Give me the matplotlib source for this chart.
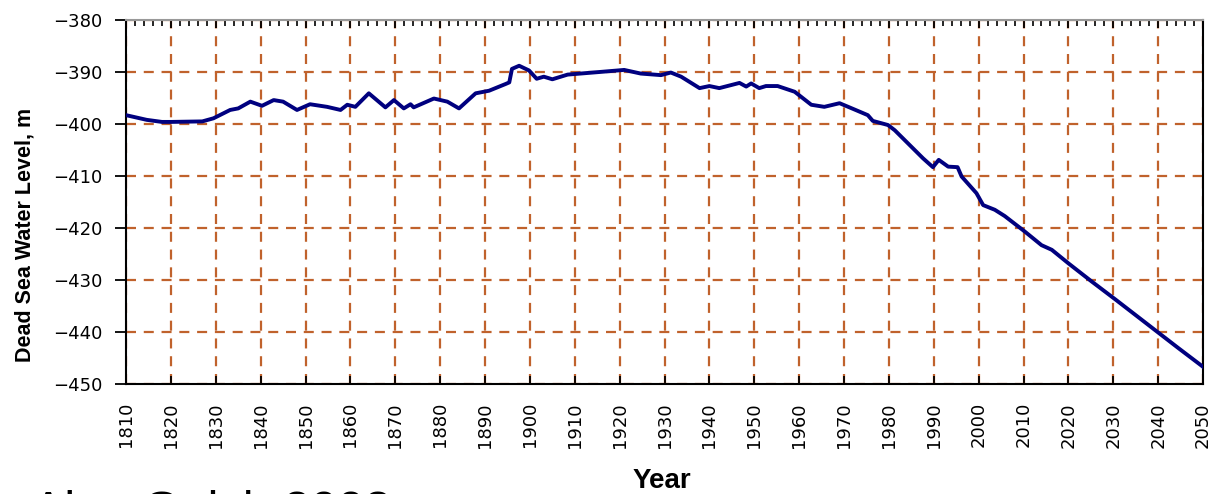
import matplotlib
matplotlib.use("Agg")
import matplotlib.pyplot as plt
from matplotlib.ticker import MultipleLocator

# water level readings (year, metres)
years = [1810, 1814.6, 1818, 1820, 1827, 1829.5, 1833.2, 1835, 1837.7, 1840.3,
         1842.9, 1845, 1848.1, 1851, 1854.8, 1857.8, 1859.3, 1861.1, 1864.1, 1867.8,
         1869.7, 1871.9, 1873.4, 1874.1, 1878.6, 1881.6, 1884.2, 1887.9, 1890.9, 1894.6,
         1895.4, 1896.0, 1897.6, 1899.8, 1901.5, 1903.1, 1905.0, 1908.4, 1915.5, 1921,
         1924.7, 1929.2, 1931.4, 1933.7, 1937.8, 1940, 1942.2, 1946.7, 1948.2, 1949.3,
         1951.1, 1952.6, 1955.2, 1959, 1962.7, 1965.6, 1969, 1972.3, 1975.3, 1976.4,
         1979.8, 1981.3, 1987.6, 1989.8, 1991.1, 1993.2, 1995.3, 1996.2, 1999.5, 2001,
         2003.6, 2005.8, 2010.3, 2014, 2016.3, 2020, 2025.2, 2030.4, 2040, 2044.5, 2050]
levels = [-398.3, -399.2, -399.6, -399.6, -399.5, -398.9, -397.3, -397.0, -395.7, -396.5,
          -395.4, -395.7, -397.3, -396.2, -396.7, -397.3, -396.3, -396.7, -394.1, -396.8,
          -395.4, -397.0, -396.2, -396.8, -395.1, -395.7, -397.0, -394.1, -393.6, -392.3,
          -392.0, -389.4, -388.8, -389.7, -391.3, -390.9, -391.4, -390.5, -390.0, -389.6,
          -390.3, -390.6, -390.1, -390.9, -393.1, -392.7, -393.1, -392.1, -392.8, -392.2,
          -393.1, -392.7, -392.7, -393.8, -396.3, -396.7, -396.0, -397.2, -398.3, -399.4,
          -400.2, -401.2, -406.6, -408.3, -406.9, -408.2, -408.3, -410.1, -413.3, -415.6,
          -416.5, -417.7, -420.7, -423.3, -424.2, -426.8, -430.3, -433.7, -440.1, -443.1, -446.7]

x_ticks = list(range(1810, 2051, 10))
y_ticks = list(range(-450, -379, 10))

fig = plt.figure(figsize=(12.13, 4.94), dpi=100)
ax = fig.add_axes([0.1039, 0.2227, 0.8879, 0.7368])

ax.plot(years, levels, color="#00007f", lw=2.8, zorder=3)

ax.set_xlim(1810, 2050)
ax.set_ylim(-450, -380)
ax.set_xticks(x_ticks)
ax.set_yticks(y_ticks)
ax.set_xticklabels([str(v) for v in x_ticks], rotation=90, fontsize=13)
ax.set_yticklabels([f"\u2212{abs(v)}" for v in y_ticks], fontsize=13)
ax.xaxis.set_minor_locator(MultipleLocator(2))

ax.grid(True, which="major", color="#c0622c", linestyle=(0, (4.5, 3.5)), lw=1.6)
ax.tick_params(axis="y", which="major", direction="out", length=8, width=1.3,
               pad=9, right=False)
ax.tick_params(axis="x", which="major", direction="in", length=6, width=1.3,
               top=True, bottom=True, pad=13)
ax.tick_params(axis="x", which="minor", direction="in", length=4, width=1.2,
               top=True, bottom=False)

for side in ["left", "bottom", "right"]:
    ax.spines[side].set_color("black")
    ax.spines[side].set_linewidth(1.5)
ax.spines["top"].set_color("#999999")
ax.spines["top"].set_linewidth(1.5)

fig.text(25 / 1213, 1 - 235 / 494, "Dead Sea Water Level, m", rotation=90,
         ha="center", va="center", fontsize=15.5, fontweight="bold",
         family="Liberation Sans")
fig.text(662 / 1213, 1 - 488 / 494, "Year", ha="center", va="baseline",
         fontsize=20, fontweight="bold", family="Liberation Sans")
fig.text(32 / 1213, -0.063, "Alon Gelch 2008", ha="left", va="baseline",
         fontsize=35, family="Liberation Sans")

fig.savefig("out.png", dpi=100)
